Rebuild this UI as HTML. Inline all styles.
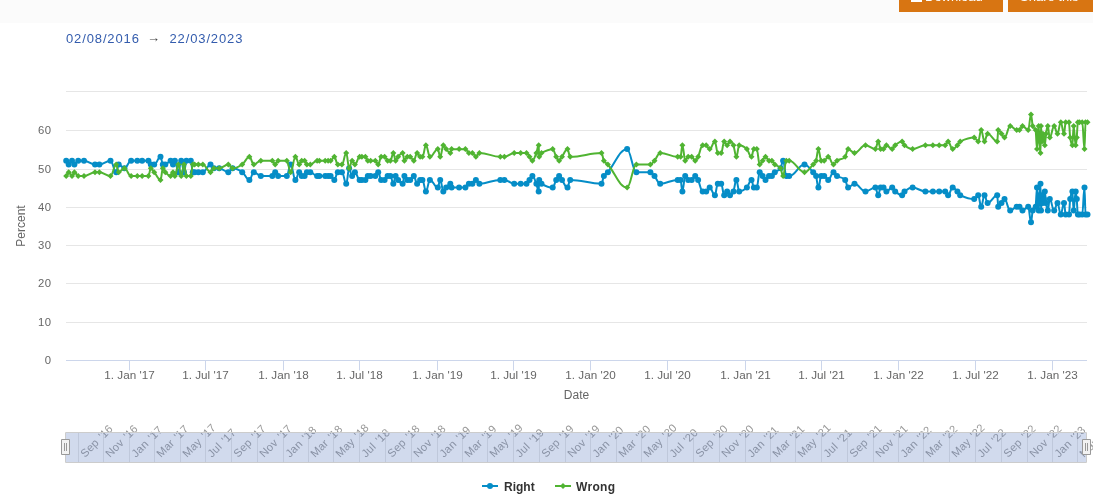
<!DOCTYPE html>
<html><head><meta charset="utf-8"><title>Chart</title>
<style>
html,body{margin:0;padding:0;background:#fff;}
body{width:1093px;height:499px;position:relative;overflow:hidden;font-family:"Liberation Sans",sans-serif;}
#wrap{position:absolute;left:0;top:0;width:1093px;height:499px;will-change:transform;transform:translateZ(0);}
.band{position:absolute;left:0;top:0;width:1093px;height:23px;background:#fbfbfb;}
.btn{position:absolute;top:0;height:12px;background:#d87512;overflow:hidden;}
.btn span{position:absolute;color:#fff;font-size:13px;line-height:13px;white-space:nowrap;top:-10px;}
.t{position:absolute;white-space:nowrap;line-height:1;}
.yl{position:absolute;right:1042px;width:40px;text-align:right;font-size:11.3px;line-height:12px;color:#666;letter-spacing:0.5px;margin-right:-0.5px;}
.xl{position:absolute;top:369px;width:80px;margin-left:-40px;text-align:center;font-size:11.7px;line-height:12px;color:#666;white-space:nowrap;}
</style></head><body><div id="wrap">
<div class="band"></div>
<div class="btn" style="left:899px;width:104px;"><i style="position:absolute;left:11.5px;top:0;width:11.5px;height:2px;background:#fff"></i><span style="left:26px">Download</span></div>
<div class="btn" style="left:1008px;width:85px;"><span style="left:12px">Share this</span></div>
<div class="t" style="left:66px;top:32px;font-size:13px;letter-spacing:0.87px;color:#335cad;">02/08/2016</div>
<div class="t" style="left:147px;top:31px;font-size:13px;color:#444;">&rarr;</div>
<div class="t" style="left:169.5px;top:32px;font-size:13px;letter-spacing:0.87px;color:#335cad;">22/03/2023</div>

<svg width="1093" height="499" viewBox="0 0 1093 499" style="position:absolute;left:0;top:0">
<path d="M66 91.5H1087" stroke="#e6e6e6" stroke-width="1" fill="none"/>
<path d="M66 130.5H1087" stroke="#e6e6e6" stroke-width="1" fill="none"/>
<path d="M66 169.5H1087" stroke="#e6e6e6" stroke-width="1" fill="none"/>
<path d="M66 207.5H1087" stroke="#e6e6e6" stroke-width="1" fill="none"/>
<path d="M66 245.5H1087" stroke="#e6e6e6" stroke-width="1" fill="none"/>
<path d="M66 283.5H1087" stroke="#e6e6e6" stroke-width="1" fill="none"/>
<path d="M66 322.5H1087" stroke="#e6e6e6" stroke-width="1" fill="none"/>
<path d="M66 360.5H1087" stroke="#ccd6eb" stroke-width="1" fill="none"/>
<path d="M129.5 360.5V370.5" stroke="#ccd6eb" stroke-width="1" fill="none"/>
<path d="M205.5 360.5V370.5" stroke="#ccd6eb" stroke-width="1" fill="none"/>
<path d="M283.5 360.5V370.5" stroke="#ccd6eb" stroke-width="1" fill="none"/>
<path d="M359.5 360.5V370.5" stroke="#ccd6eb" stroke-width="1" fill="none"/>
<path d="M437.5 360.5V370.5" stroke="#ccd6eb" stroke-width="1" fill="none"/>
<path d="M513.5 360.5V370.5" stroke="#ccd6eb" stroke-width="1" fill="none"/>
<path d="M590.5 360.5V370.5" stroke="#ccd6eb" stroke-width="1" fill="none"/>
<path d="M667.5 360.5V370.5" stroke="#ccd6eb" stroke-width="1" fill="none"/>
<path d="M745.5 360.5V370.5" stroke="#ccd6eb" stroke-width="1" fill="none"/>
<path d="M821.5 360.5V370.5" stroke="#ccd6eb" stroke-width="1" fill="none"/>
<path d="M898.5 360.5V370.5" stroke="#ccd6eb" stroke-width="1" fill="none"/>
<path d="M975.5 360.5V370.5" stroke="#ccd6eb" stroke-width="1" fill="none"/>
<path d="M1052.5 360.5V370.5" stroke="#ccd6eb" stroke-width="1" fill="none"/>
<path d="M66.25 160.66C66.25 160.66 67.69 164.51 68.65 164.51C69.97 164.51 70.63 160.66 71.95 160.66C72.91 160.66 73.39 164.51 74.35 164.51C75.91 164.51 76.69 160.66 78.25 160.66C80.57 160.66 81.73 160.66 84.05 160.66C88.45 160.66 90.65 164.51 95.05 164.51C96.77 164.51 97.63 164.51 99.35 164.51C103.79 164.51 106.01 160.66 110.45 160.66C112.77 160.66 113.93 172.19 116.25 172.19C117.21 172.19 117.69 164.51 118.65 164.51C120.93 164.51 122.07 168.35 124.35 168.35C127.07 168.35 128.43 160.66 131.15 160.66C133.63 160.66 134.87 160.66 137.35 160.66C139.27 160.66 140.23 160.66 142.15 160.66C144.67 160.66 145.93 160.66 148.45 160.66C149.37 160.66 149.83 164.51 150.75 164.51C152.15 164.51 152.85 164.51 154.25 164.51C156.77 164.51 158.03 156.82 160.55 156.82C161.47 156.82 161.93 164.51 162.85 164.51C163.85 164.51 164.35 164.51 165.35 164.51C167.47 164.51 168.53 160.66 170.65 160.66C171.61 160.66 172.09 164.51 173.05 164.51C173.81 164.51 174.19 160.66 174.95 160.66C176.31 160.66 176.99 172.19 178.35 172.19C179.51 172.19 180.09 160.66 181.25 160.66C182.37 160.66 182.93 172.19 184.05 172.19C185.01 172.19 185.49 160.66 186.45 160.66C188.21 160.66 189.09 160.66 190.85 160.66C191.61 160.66 191.99 172.19 192.75 172.19C193.51 172.19 193.89 172.19 194.65 172.19C196.17 172.19 196.93 172.19 198.45 172.19C200.21 172.19 201.09 172.19 202.85 172.19C205.93 172.19 207.47 164.51 210.55 164.51C211.91 164.51 212.59 168.35 213.95 168.35C216.05 168.35 217.10 168.35 219.20 168.35C222.86 168.35 224.69 172.19 228.35 172.19C230.07 172.19 230.93 168.35 232.65 168.35C236.49 168.35 238.41 169.56 242.25 172.19C245.13 174.17 246.57 179.88 249.45 179.88C251.17 179.88 252.03 172.19 253.75 172.19C256.59 172.19 258.01 176.04 260.85 176.04C265.45 176.04 267.75 176.04 272.35 176.04C273.51 176.04 274.09 172.19 275.25 172.19C276.41 172.19 276.99 176.04 278.15 176.04C281.59 176.04 283.31 176.04 286.75 176.04C288.31 176.04 289.09 164.51 290.65 164.51C292.57 164.51 293.53 179.88 295.45 179.88C296.97 179.88 297.73 172.19 299.25 172.19C300.23 172.19 300.72 176.04 301.70 176.04C302.84 176.04 303.41 176.04 304.55 176.04C305.51 176.04 305.99 172.19 306.95 172.19C308.31 172.19 308.99 172.19 310.35 172.19C313.03 172.19 314.37 176.04 317.05 176.04C318.01 176.04 318.49 176.04 319.45 176.04C321.77 176.04 322.93 176.04 325.25 176.04C326.41 176.04 326.99 176.04 328.15 176.04C329.11 176.04 329.59 176.04 330.55 176.04C332.07 176.04 332.83 179.88 334.35 179.88C335.71 179.88 336.39 172.19 337.75 172.19C339.43 172.19 340.27 172.19 341.95 172.19C343.67 172.19 344.53 183.72 346.25 183.72C347.41 183.72 347.99 168.35 349.15 168.35C350.31 168.35 350.89 176.04 352.05 176.04C353.21 176.04 353.79 172.19 354.95 172.19C356.83 172.19 357.77 179.88 359.65 179.88C360.57 179.88 361.03 179.88 361.95 179.88C363.35 179.88 364.05 179.88 365.45 179.88C366.37 179.88 366.83 176.04 367.75 176.04C368.91 176.04 369.49 176.04 370.65 176.04C372.53 176.04 373.47 176.04 375.35 176.04C376.51 176.04 377.09 172.19 378.25 172.19C379.41 172.19 379.99 179.88 381.15 179.88C382.55 179.88 383.25 179.88 384.65 179.88C385.81 179.88 386.39 176.04 387.55 176.04C388.71 176.04 389.29 176.04 390.45 176.04C391.61 176.04 392.19 183.72 393.35 183.72C394.27 183.72 394.73 176.04 395.65 176.04C396.61 176.04 397.09 178.82 398.05 179.88C399.89 181.90 400.81 183.72 402.65 183.72C403.37 183.72 403.73 176.04 404.45 176.04C405.61 176.04 406.19 179.88 407.35 179.88C408.51 179.88 409.09 179.88 410.25 179.88C411.65 179.88 412.35 176.04 413.75 176.04C415.11 176.04 415.79 183.72 417.15 183.72C418.35 183.72 418.95 179.88 420.15 179.88C421.07 179.88 421.53 179.88 422.45 179.88C423.85 179.88 424.55 191.41 425.95 191.41C427.55 191.41 428.35 179.88 429.95 179.88C433.07 179.88 434.63 187.56 437.75 187.56C438.75 187.56 439.25 179.88 440.25 179.88C441.49 179.88 442.11 191.41 443.35 191.41C444.51 191.41 445.09 188.84 446.25 187.56C447.89 185.76 448.71 183.72 450.35 183.72C450.87 183.72 451.13 187.56 451.65 187.56C454.61 187.56 456.09 187.56 459.05 187.56C461.61 187.56 462.89 187.56 465.45 187.56C466.85 187.56 467.55 183.72 468.95 183.72C470.35 183.72 471.05 183.72 472.45 183.72C473.85 183.72 474.55 179.88 475.95 179.88C477.35 179.88 478.05 183.72 479.45 183.72C487.81 183.72 491.99 179.88 500.35 179.88C501.99 179.88 502.81 179.88 504.45 179.88C508.37 179.88 510.33 183.72 514.25 183.72C516.81 183.72 518.09 183.72 520.65 183.72C522.97 183.72 524.13 183.72 526.45 183.72C527.65 183.72 528.25 181.44 529.45 179.88C530.61 178.37 531.19 176.04 532.35 176.04C533.95 176.04 534.75 179.82 536.35 183.72C537.27 185.97 537.73 191.41 538.65 191.41C538.85 191.41 538.95 179.88 539.15 179.88C540.07 179.88 540.53 183.20 541.45 183.72C545.93 186.27 548.17 187.56 552.65 187.56C554.05 187.56 554.75 182.40 556.15 179.88C557.31 177.79 557.89 176.04 559.05 176.04C560.21 176.04 560.79 178.29 561.95 179.88C564.15 182.90 565.25 187.56 567.45 187.56C568.53 187.56 569.07 179.88 570.15 179.88C582.67 179.88 588.93 183.72 601.45 183.72C602.41 183.72 602.89 177.77 603.85 176.04C605.45 173.15 606.25 174.05 607.85 172.19C615.53 163.29 619.37 149.13 627.05 149.13C630.77 149.13 632.63 172.19 636.35 172.19C641.95 172.19 644.75 172.19 650.35 172.19C651.99 172.19 652.81 174.13 654.45 176.04C656.77 178.74 657.93 183.72 660.25 183.72C667.21 183.72 670.69 179.88 677.65 179.88C678.81 179.88 679.39 179.88 680.55 179.88C681.27 179.88 681.63 191.41 682.35 191.41C683.51 191.41 684.09 176.04 685.25 176.04C686.41 176.04 686.99 179.88 688.15 179.88C689.55 179.88 690.25 179.88 691.65 179.88C693.05 179.88 693.75 176.04 695.15 176.04C696.31 176.04 696.89 177.50 698.05 179.88C699.89 183.65 700.81 191.41 702.65 191.41C704.05 191.41 704.75 191.41 706.15 191.41C707.55 191.41 708.25 187.56 709.65 187.56C711.73 187.56 712.77 195.25 714.85 195.25C716.01 195.25 716.59 183.72 717.75 183.72C719.15 183.72 719.85 183.72 721.25 183.72C722.41 183.72 722.99 195.25 724.15 195.25C725.31 195.25 725.89 191.41 727.05 191.41C728.21 191.41 728.79 195.25 729.95 195.25C731.35 195.25 732.05 194.77 733.45 191.41C734.61 188.62 735.19 179.88 736.35 179.88C737.51 179.88 738.09 191.41 739.25 191.41C742.29 191.41 743.81 190.44 746.85 187.56C748.69 185.83 749.61 179.88 751.45 179.88C752.41 179.88 752.89 187.56 753.85 187.56C755.01 187.56 755.59 187.56 756.75 187.56C757.91 187.56 758.49 172.19 759.65 172.19C760.81 172.19 761.39 174.50 762.55 176.04C763.71 177.57 764.29 179.88 765.45 179.88C766.85 179.88 767.55 176.04 768.95 176.04C770.11 176.04 770.69 176.04 771.85 176.04C773.01 176.04 773.59 173.22 774.75 172.19C777.07 170.14 778.23 171.57 780.55 168.35C781.55 166.96 782.05 160.66 783.05 160.66C784.37 160.66 785.03 176.04 786.35 176.04C787.51 176.04 788.09 176.04 789.25 176.04C795.33 176.04 798.37 164.51 804.45 164.51C807.93 164.51 809.67 168.73 813.15 172.19C814.31 173.35 814.89 172.61 816.05 176.04C816.97 178.76 817.43 187.56 818.35 187.56C819.51 187.56 820.09 176.04 821.25 176.04C822.41 176.04 822.99 176.04 824.15 176.04C825.79 176.04 826.61 179.88 828.25 179.88C830.33 179.88 831.37 172.19 833.45 172.19C834.85 172.19 835.55 175.12 836.95 176.04C840.23 178.19 841.87 176.47 845.15 179.88C846.31 181.08 846.89 187.56 848.05 187.56C850.61 187.56 851.89 183.72 854.45 183.72C858.85 183.72 861.05 191.41 865.45 191.41C869.41 191.41 871.39 187.56 875.35 187.56C876.51 187.56 877.09 195.25 878.25 195.25C879.17 195.25 879.63 187.56 880.55 187.56C881.71 187.56 882.29 187.56 883.45 187.56C884.61 187.56 885.19 191.41 886.35 191.41C888.67 191.41 889.83 187.56 892.15 187.56C893.35 187.56 893.95 190.48 895.15 191.41C897.91 193.55 899.29 195.25 902.05 195.25C903.01 195.25 903.49 192.11 904.45 191.41C907.69 189.04 909.31 187.56 912.55 187.56C917.67 187.56 920.23 191.41 925.35 191.41C928.35 191.41 929.85 191.41 932.85 191.41C935.41 191.41 936.69 191.41 939.25 191.41C941.61 191.41 942.79 191.41 945.15 191.41C946.31 191.41 946.89 195.25 948.05 195.25C949.89 195.25 950.81 187.56 952.65 187.56C954.53 187.56 955.47 189.51 957.35 191.41C958.51 192.58 959.09 194.72 960.25 195.25C965.81 197.79 968.59 199.09 974.15 199.09C975.79 199.09 976.61 195.25 978.25 195.25C979.41 195.25 979.99 206.78 981.15 206.78C982.47 206.78 983.13 195.25 984.45 195.25C985.69 195.25 986.31 202.94 987.55 202.94C991.43 202.94 993.37 195.25 997.25 195.25C997.65 195.25 997.85 206.78 998.25 206.78C999.53 206.78 1000.17 204.52 1001.45 202.94C1002.65 201.45 1003.25 199.09 1004.45 199.09C1006.77 199.09 1007.93 210.62 1010.25 210.62C1012.81 210.62 1014.09 206.78 1016.65 206.78C1017.77 206.78 1018.33 206.78 1019.45 206.78C1020.65 206.78 1021.25 210.62 1022.45 210.62C1024.77 210.62 1025.93 206.78 1028.25 206.78C1029.33 206.78 1029.87 222.15 1030.95 222.15C1031.63 222.15 1031.97 214.47 1032.65 210.62C1033.85 206.78 1034.45 210.62 1035.65 206.78C1036.21 202.94 1036.49 187.56 1037.05 187.56C1037.37 187.56 1037.53 198.33 1037.85 202.94C1038.17 207.55 1038.33 210.62 1038.65 210.62C1038.97 210.62 1039.13 200.03 1039.45 195.25C1039.85 189.27 1040.05 183.72 1040.45 183.72C1040.69 183.72 1040.81 210.62 1041.05 210.62C1041.41 210.62 1041.59 195.25 1041.95 195.25C1042.31 195.25 1042.49 202.94 1042.85 202.94C1043.25 202.94 1043.45 201.52 1043.85 199.09C1044.21 196.91 1044.39 191.41 1044.75 191.41C1045.27 191.41 1045.53 199.61 1046.05 202.94C1046.73 207.29 1047.07 210.62 1047.75 210.62C1048.55 210.62 1048.95 199.09 1049.75 199.09C1051.51 199.09 1052.39 210.62 1054.15 210.62C1055.47 210.62 1056.13 202.94 1057.45 202.94C1058.77 202.94 1059.43 214.47 1060.75 214.47C1062.07 214.47 1062.73 202.94 1064.05 202.94C1064.69 202.94 1065.01 214.47 1065.65 214.47C1066.97 214.47 1067.63 214.47 1068.95 214.47C1069.43 214.47 1069.67 202.35 1070.15 199.09C1071.03 193.13 1071.47 191.41 1072.35 191.41C1072.87 191.41 1073.13 210.62 1073.65 210.62C1074.45 210.62 1074.85 191.41 1075.65 191.41C1076.09 191.41 1076.31 194.48 1076.75 199.09C1077.19 203.71 1077.41 214.47 1077.85 214.47C1078.49 214.47 1078.81 214.47 1079.45 214.47C1080.57 214.47 1081.13 214.47 1082.25 214.47C1083.13 214.47 1083.57 187.56 1084.45 187.56C1084.89 187.56 1085.11 214.47 1085.55 214.47C1086.31 214.47 1087.45 214.47 1087.45 214.47" stroke="#058DC7" stroke-width="2" fill="none" stroke-linejoin="round" stroke-linecap="round"/>
<g fill="#058DC7"><circle cx="66.2" cy="160.7" r="3.0"/><circle cx="68.7" cy="164.5" r="3.0"/><circle cx="72.0" cy="160.7" r="3.0"/><circle cx="74.4" cy="164.5" r="3.0"/><circle cx="78.2" cy="160.7" r="3.0"/><circle cx="84.0" cy="160.7" r="3.0"/><circle cx="95.0" cy="164.5" r="3.0"/><circle cx="99.4" cy="164.5" r="3.0"/><circle cx="110.5" cy="160.7" r="3.0"/><circle cx="116.2" cy="172.2" r="3.0"/><circle cx="118.7" cy="164.5" r="3.0"/><circle cx="124.4" cy="168.3" r="3.0"/><circle cx="131.1" cy="160.7" r="3.0"/><circle cx="137.3" cy="160.7" r="3.0"/><circle cx="142.1" cy="160.7" r="3.0"/><circle cx="148.4" cy="160.7" r="3.0"/><circle cx="150.8" cy="164.5" r="3.0"/><circle cx="154.2" cy="164.5" r="3.0"/><circle cx="160.5" cy="156.8" r="3.0"/><circle cx="162.8" cy="164.5" r="3.0"/><circle cx="165.3" cy="164.5" r="3.0"/><circle cx="170.6" cy="160.7" r="3.0"/><circle cx="173.0" cy="164.5" r="3.0"/><circle cx="174.9" cy="160.7" r="3.0"/><circle cx="178.3" cy="172.2" r="3.0"/><circle cx="181.2" cy="160.7" r="3.0"/><circle cx="184.0" cy="172.2" r="3.0"/><circle cx="186.4" cy="160.7" r="3.0"/><circle cx="190.8" cy="160.7" r="3.0"/><circle cx="192.8" cy="172.2" r="3.0"/><circle cx="194.6" cy="172.2" r="3.0"/><circle cx="198.4" cy="172.2" r="3.0"/><circle cx="202.8" cy="172.2" r="3.0"/><circle cx="210.5" cy="164.5" r="3.0"/><circle cx="213.9" cy="168.3" r="3.0"/><circle cx="219.2" cy="168.3" r="3.0"/><circle cx="228.3" cy="172.2" r="3.0"/><circle cx="232.6" cy="168.3" r="3.0"/><circle cx="242.2" cy="172.2" r="3.0"/><circle cx="249.4" cy="179.9" r="3.0"/><circle cx="253.8" cy="172.2" r="3.0"/><circle cx="260.8" cy="176.0" r="3.0"/><circle cx="272.3" cy="176.0" r="3.0"/><circle cx="275.2" cy="172.2" r="3.0"/><circle cx="278.1" cy="176.0" r="3.0"/><circle cx="286.8" cy="176.0" r="3.0"/><circle cx="290.6" cy="164.5" r="3.0"/><circle cx="295.4" cy="179.9" r="3.0"/><circle cx="299.2" cy="172.2" r="3.0"/><circle cx="301.7" cy="176.0" r="3.0"/><circle cx="304.6" cy="176.0" r="3.0"/><circle cx="306.9" cy="172.2" r="3.0"/><circle cx="310.3" cy="172.2" r="3.0"/><circle cx="317.1" cy="176.0" r="3.0"/><circle cx="319.4" cy="176.0" r="3.0"/><circle cx="325.2" cy="176.0" r="3.0"/><circle cx="328.1" cy="176.0" r="3.0"/><circle cx="330.6" cy="176.0" r="3.0"/><circle cx="334.3" cy="179.9" r="3.0"/><circle cx="337.8" cy="172.2" r="3.0"/><circle cx="341.9" cy="172.2" r="3.0"/><circle cx="346.2" cy="183.7" r="3.0"/><circle cx="349.1" cy="168.3" r="3.0"/><circle cx="352.1" cy="176.0" r="3.0"/><circle cx="354.9" cy="172.2" r="3.0"/><circle cx="359.6" cy="179.9" r="3.0"/><circle cx="361.9" cy="179.9" r="3.0"/><circle cx="365.4" cy="179.9" r="3.0"/><circle cx="367.8" cy="176.0" r="3.0"/><circle cx="370.6" cy="176.0" r="3.0"/><circle cx="375.3" cy="176.0" r="3.0"/><circle cx="378.2" cy="172.2" r="3.0"/><circle cx="381.1" cy="179.9" r="3.0"/><circle cx="384.6" cy="179.9" r="3.0"/><circle cx="387.6" cy="176.0" r="3.0"/><circle cx="390.4" cy="176.0" r="3.0"/><circle cx="393.3" cy="183.7" r="3.0"/><circle cx="395.6" cy="176.0" r="3.0"/><circle cx="398.1" cy="179.9" r="3.0"/><circle cx="402.6" cy="183.7" r="3.0"/><circle cx="404.4" cy="176.0" r="3.0"/><circle cx="407.3" cy="179.9" r="3.0"/><circle cx="410.2" cy="179.9" r="3.0"/><circle cx="413.8" cy="176.0" r="3.0"/><circle cx="417.1" cy="183.7" r="3.0"/><circle cx="420.1" cy="179.9" r="3.0"/><circle cx="422.4" cy="179.9" r="3.0"/><circle cx="425.9" cy="191.4" r="3.0"/><circle cx="429.9" cy="179.9" r="3.0"/><circle cx="437.8" cy="187.6" r="3.0"/><circle cx="440.2" cy="179.9" r="3.0"/><circle cx="443.3" cy="191.4" r="3.0"/><circle cx="446.2" cy="187.6" r="3.0"/><circle cx="450.3" cy="183.7" r="3.0"/><circle cx="451.6" cy="187.6" r="3.0"/><circle cx="459.1" cy="187.6" r="3.0"/><circle cx="465.4" cy="187.6" r="3.0"/><circle cx="468.9" cy="183.7" r="3.0"/><circle cx="472.4" cy="183.7" r="3.0"/><circle cx="475.9" cy="179.9" r="3.0"/><circle cx="479.4" cy="183.7" r="3.0"/><circle cx="500.3" cy="179.9" r="3.0"/><circle cx="504.4" cy="179.9" r="3.0"/><circle cx="514.2" cy="183.7" r="3.0"/><circle cx="520.7" cy="183.7" r="3.0"/><circle cx="526.5" cy="183.7" r="3.0"/><circle cx="529.5" cy="179.9" r="3.0"/><circle cx="532.4" cy="176.0" r="3.0"/><circle cx="536.4" cy="183.7" r="3.0"/><circle cx="538.7" cy="191.4" r="3.0"/><circle cx="539.2" cy="179.9" r="3.0"/><circle cx="541.5" cy="183.7" r="3.0"/><circle cx="552.7" cy="187.6" r="3.0"/><circle cx="556.2" cy="179.9" r="3.0"/><circle cx="559.1" cy="176.0" r="3.0"/><circle cx="562.0" cy="179.9" r="3.0"/><circle cx="567.5" cy="187.6" r="3.0"/><circle cx="570.2" cy="179.9" r="3.0"/><circle cx="601.5" cy="183.7" r="3.0"/><circle cx="603.9" cy="176.0" r="3.0"/><circle cx="607.9" cy="172.2" r="3.0"/><circle cx="627.1" cy="149.1" r="3.0"/><circle cx="636.4" cy="172.2" r="3.0"/><circle cx="650.4" cy="172.2" r="3.0"/><circle cx="654.5" cy="176.0" r="3.0"/><circle cx="660.2" cy="183.7" r="3.0"/><circle cx="677.7" cy="179.9" r="3.0"/><circle cx="680.6" cy="179.9" r="3.0"/><circle cx="682.4" cy="191.4" r="3.0"/><circle cx="685.2" cy="176.0" r="3.0"/><circle cx="688.2" cy="179.9" r="3.0"/><circle cx="691.7" cy="179.9" r="3.0"/><circle cx="695.2" cy="176.0" r="3.0"/><circle cx="698.1" cy="179.9" r="3.0"/><circle cx="702.7" cy="191.4" r="3.0"/><circle cx="706.2" cy="191.4" r="3.0"/><circle cx="709.7" cy="187.6" r="3.0"/><circle cx="714.9" cy="195.3" r="3.0"/><circle cx="717.8" cy="183.7" r="3.0"/><circle cx="721.2" cy="183.7" r="3.0"/><circle cx="724.2" cy="195.3" r="3.0"/><circle cx="727.1" cy="191.4" r="3.0"/><circle cx="730.0" cy="195.3" r="3.0"/><circle cx="733.5" cy="191.4" r="3.0"/><circle cx="736.4" cy="179.9" r="3.0"/><circle cx="739.2" cy="191.4" r="3.0"/><circle cx="746.9" cy="187.6" r="3.0"/><circle cx="751.5" cy="179.9" r="3.0"/><circle cx="753.9" cy="187.6" r="3.0"/><circle cx="756.8" cy="187.6" r="3.0"/><circle cx="759.7" cy="172.2" r="3.0"/><circle cx="762.6" cy="176.0" r="3.0"/><circle cx="765.5" cy="179.9" r="3.0"/><circle cx="769.0" cy="176.0" r="3.0"/><circle cx="771.9" cy="176.0" r="3.0"/><circle cx="774.8" cy="172.2" r="3.0"/><circle cx="780.6" cy="168.3" r="3.0"/><circle cx="783.1" cy="160.7" r="3.0"/><circle cx="786.4" cy="176.0" r="3.0"/><circle cx="789.2" cy="176.0" r="3.0"/><circle cx="804.5" cy="164.5" r="3.0"/><circle cx="813.2" cy="172.2" r="3.0"/><circle cx="816.1" cy="176.0" r="3.0"/><circle cx="818.4" cy="187.6" r="3.0"/><circle cx="821.2" cy="176.0" r="3.0"/><circle cx="824.2" cy="176.0" r="3.0"/><circle cx="828.2" cy="179.9" r="3.0"/><circle cx="833.5" cy="172.2" r="3.0"/><circle cx="837.0" cy="176.0" r="3.0"/><circle cx="845.2" cy="179.9" r="3.0"/><circle cx="848.1" cy="187.6" r="3.0"/><circle cx="854.5" cy="183.7" r="3.0"/><circle cx="865.5" cy="191.4" r="3.0"/><circle cx="875.4" cy="187.6" r="3.0"/><circle cx="878.2" cy="195.3" r="3.0"/><circle cx="880.6" cy="187.6" r="3.0"/><circle cx="883.5" cy="187.6" r="3.0"/><circle cx="886.4" cy="191.4" r="3.0"/><circle cx="892.2" cy="187.6" r="3.0"/><circle cx="895.2" cy="191.4" r="3.0"/><circle cx="902.1" cy="195.3" r="3.0"/><circle cx="904.5" cy="191.4" r="3.0"/><circle cx="912.6" cy="187.6" r="3.0"/><circle cx="925.4" cy="191.4" r="3.0"/><circle cx="932.9" cy="191.4" r="3.0"/><circle cx="939.2" cy="191.4" r="3.0"/><circle cx="945.2" cy="191.4" r="3.0"/><circle cx="948.1" cy="195.3" r="3.0"/><circle cx="952.7" cy="187.6" r="3.0"/><circle cx="957.4" cy="191.4" r="3.0"/><circle cx="960.2" cy="195.3" r="3.0"/><circle cx="974.2" cy="199.1" r="3.0"/><circle cx="978.2" cy="195.3" r="3.0"/><circle cx="981.2" cy="206.8" r="3.0"/><circle cx="984.5" cy="195.3" r="3.0"/><circle cx="987.6" cy="202.9" r="3.0"/><circle cx="997.2" cy="195.3" r="3.0"/><circle cx="998.2" cy="206.8" r="3.0"/><circle cx="1001.5" cy="202.9" r="3.0"/><circle cx="1004.5" cy="199.1" r="3.0"/><circle cx="1010.2" cy="210.6" r="3.0"/><circle cx="1016.7" cy="206.8" r="3.0"/><circle cx="1019.5" cy="206.8" r="3.0"/><circle cx="1022.5" cy="210.6" r="3.0"/><circle cx="1028.2" cy="206.8" r="3.0"/><circle cx="1031.0" cy="222.2" r="3.0"/><circle cx="1032.7" cy="210.6" r="3.0"/><circle cx="1035.7" cy="206.8" r="3.0"/><circle cx="1037.0" cy="187.6" r="3.0"/><circle cx="1037.9" cy="202.9" r="3.0"/><circle cx="1038.7" cy="210.6" r="3.0"/><circle cx="1039.5" cy="195.3" r="3.0"/><circle cx="1040.5" cy="183.7" r="3.0"/><circle cx="1041.0" cy="210.6" r="3.0"/><circle cx="1042.0" cy="195.3" r="3.0"/><circle cx="1042.9" cy="202.9" r="3.0"/><circle cx="1043.9" cy="199.1" r="3.0"/><circle cx="1044.8" cy="191.4" r="3.0"/><circle cx="1046.0" cy="202.9" r="3.0"/><circle cx="1047.8" cy="210.6" r="3.0"/><circle cx="1049.8" cy="199.1" r="3.0"/><circle cx="1054.2" cy="210.6" r="3.0"/><circle cx="1057.5" cy="202.9" r="3.0"/><circle cx="1060.8" cy="214.5" r="3.0"/><circle cx="1064.0" cy="202.9" r="3.0"/><circle cx="1065.7" cy="214.5" r="3.0"/><circle cx="1069.0" cy="214.5" r="3.0"/><circle cx="1070.2" cy="199.1" r="3.0"/><circle cx="1072.4" cy="191.4" r="3.0"/><circle cx="1073.7" cy="210.6" r="3.0"/><circle cx="1075.7" cy="191.4" r="3.0"/><circle cx="1076.8" cy="199.1" r="3.0"/><circle cx="1077.9" cy="214.5" r="3.0"/><circle cx="1079.5" cy="214.5" r="3.0"/><circle cx="1082.2" cy="214.5" r="3.0"/><circle cx="1084.5" cy="187.6" r="3.0"/><circle cx="1085.5" cy="214.5" r="3.0"/><circle cx="1087.5" cy="214.5" r="3.0"/></g>
<path d="M66.25 176.04C66.25 176.04 67.69 172.19 68.65 172.19C69.97 172.19 70.63 176.04 71.95 176.04C72.91 176.04 73.39 172.19 74.35 172.19C75.91 172.19 76.69 176.04 78.25 176.04C80.57 176.04 81.73 176.04 84.05 176.04C88.45 176.04 90.65 172.19 95.05 172.19C96.77 172.19 97.63 172.19 99.35 172.19C103.79 172.19 106.01 176.04 110.45 176.04C112.77 176.04 113.93 164.51 116.25 164.51C117.21 164.51 117.69 172.19 118.65 172.19C120.93 172.19 122.07 168.35 124.35 168.35C127.07 168.35 128.43 176.04 131.15 176.04C133.63 176.04 134.87 176.04 137.35 176.04C139.27 176.04 140.23 176.04 142.15 176.04C144.67 176.04 145.93 176.04 148.45 176.04C149.37 176.04 149.83 168.35 150.75 168.35C152.15 168.35 152.85 170.55 154.25 172.19C156.77 175.16 158.03 179.88 160.55 179.88C161.47 179.88 161.93 168.35 162.85 168.35C163.85 168.35 164.35 171.21 165.35 172.19C167.47 174.28 168.53 176.04 170.65 176.04C171.61 176.04 172.09 172.19 173.05 172.19C173.81 172.19 174.19 176.04 174.95 176.04C176.31 176.04 176.99 164.51 178.35 164.51C179.51 164.51 180.09 176.04 181.25 176.04C182.37 176.04 182.93 164.51 184.05 164.51C185.01 164.51 185.49 176.04 186.45 176.04C188.21 176.04 189.09 176.04 190.85 176.04C191.61 176.04 191.99 164.51 192.75 164.51C193.51 164.51 193.89 164.51 194.65 164.51C196.17 164.51 196.93 164.51 198.45 164.51C200.21 164.51 201.09 164.51 202.85 164.51C205.93 164.51 207.47 172.19 210.55 172.19C211.91 172.19 212.59 168.35 213.95 168.35C216.05 168.35 217.10 168.35 219.20 168.35C222.86 168.35 224.69 164.51 228.35 164.51C230.07 164.51 230.93 168.35 232.65 168.35C236.49 168.35 238.41 167.14 242.25 164.51C245.13 162.53 246.57 156.82 249.45 156.82C251.17 156.82 252.03 164.51 253.75 164.51C256.59 164.51 258.01 160.66 260.85 160.66C265.45 160.66 267.75 160.66 272.35 160.66C273.51 160.66 274.09 164.51 275.25 164.51C276.41 164.51 276.99 160.66 278.15 160.66C281.59 160.66 283.31 160.66 286.75 160.66C288.31 160.66 289.09 172.19 290.65 172.19C292.57 172.19 293.53 156.82 295.45 156.82C296.97 156.82 297.73 164.51 299.25 164.51C300.23 164.51 300.72 160.66 301.70 160.66C302.84 160.66 303.41 160.66 304.55 160.66C305.51 160.66 305.99 164.51 306.95 164.51C308.31 164.51 308.99 164.51 310.35 164.51C313.03 164.51 314.37 160.66 317.05 160.66C318.01 160.66 318.49 160.66 319.45 160.66C321.77 160.66 322.93 160.66 325.25 160.66C326.41 160.66 326.99 160.66 328.15 160.66C329.11 160.66 329.59 160.66 330.55 160.66C332.07 160.66 332.83 156.82 334.35 156.82C335.71 156.82 336.39 164.51 337.75 164.51C339.43 164.51 340.27 164.51 341.95 164.51C343.67 164.51 344.53 152.98 346.25 152.98C347.41 152.98 347.99 168.35 349.15 168.35C350.31 168.35 350.89 160.66 352.05 160.66C353.21 160.66 353.79 164.51 354.95 164.51C356.83 164.51 357.77 156.82 359.65 156.82C360.57 156.82 361.03 156.82 361.95 156.82C363.35 156.82 364.05 156.82 365.45 156.82C366.37 156.82 366.83 160.66 367.75 160.66C368.91 160.66 369.49 160.66 370.65 160.66C372.53 160.66 373.47 160.66 375.35 160.66C376.51 160.66 377.09 164.51 378.25 164.51C379.41 164.51 379.99 156.82 381.15 156.82C382.55 156.82 383.25 156.82 384.65 156.82C385.81 156.82 386.39 160.66 387.55 160.66C388.71 160.66 389.29 160.66 390.45 160.66C391.61 160.66 392.19 152.98 393.35 152.98C394.27 152.98 394.73 160.66 395.65 160.66C396.61 160.66 397.09 157.88 398.05 156.82C399.89 154.80 400.81 152.98 402.65 152.98C403.37 152.98 403.73 160.66 404.45 160.66C405.61 160.66 406.19 156.82 407.35 156.82C408.51 156.82 409.09 156.82 410.25 156.82C411.65 156.82 412.35 160.66 413.75 160.66C415.11 160.66 415.79 152.98 417.15 152.98C418.35 152.98 418.95 156.82 420.15 156.82C421.07 156.82 421.53 156.82 422.45 156.82C423.85 156.82 424.55 145.29 425.95 145.29C427.55 145.29 428.35 156.82 429.95 156.82C433.07 156.82 434.63 149.13 437.75 149.13C438.75 149.13 439.25 156.82 440.25 156.82C441.49 156.82 442.11 145.29 443.35 145.29C444.51 145.29 445.09 147.86 446.25 149.13C447.89 150.94 448.71 152.98 450.35 152.98C450.87 152.98 451.13 149.13 451.65 149.13C454.61 149.13 456.09 149.13 459.05 149.13C461.61 149.13 462.89 149.13 465.45 149.13C466.85 149.13 467.55 152.98 468.95 152.98C470.35 152.98 471.05 152.98 472.45 152.98C473.85 152.98 474.55 156.82 475.95 156.82C477.35 156.82 478.05 152.98 479.45 152.98C487.81 152.98 491.99 156.82 500.35 156.82C501.99 156.82 502.81 156.82 504.45 156.82C508.37 156.82 510.33 152.98 514.25 152.98C516.81 152.98 518.09 152.98 520.65 152.98C522.97 152.98 524.13 152.98 526.45 152.98C527.65 152.98 528.25 155.26 529.45 156.82C530.61 158.33 531.19 160.66 532.35 160.66C533.95 160.66 534.75 156.88 536.35 152.98C537.27 150.73 537.73 145.29 538.65 145.29C538.85 145.29 538.95 156.82 539.15 156.82C540.07 156.82 540.53 153.50 541.45 152.98C545.93 150.43 548.17 149.13 552.65 149.13C554.05 149.13 554.75 154.30 556.15 156.82C557.31 158.91 557.89 160.66 559.05 160.66C560.21 160.66 560.79 158.41 561.95 156.82C564.15 153.80 565.25 149.13 567.45 149.13C568.53 149.13 569.07 156.82 570.15 156.82C582.67 156.82 588.93 152.98 601.45 152.98C602.41 152.98 602.89 158.93 603.85 160.66C605.45 163.55 606.25 162.65 607.85 164.51C615.53 173.41 619.37 187.56 627.05 187.56C630.77 187.56 632.63 164.51 636.35 164.51C641.95 164.51 644.75 164.51 650.35 164.51C651.99 164.51 652.81 162.57 654.45 160.66C656.77 157.96 657.93 152.98 660.25 152.98C667.21 152.98 670.69 156.82 677.65 156.82C678.81 156.82 679.39 156.82 680.55 156.82C681.27 156.82 681.63 145.29 682.35 145.29C683.51 145.29 684.09 160.66 685.25 160.66C686.41 160.66 686.99 156.82 688.15 156.82C689.55 156.82 690.25 156.82 691.65 156.82C693.05 156.82 693.75 160.66 695.15 160.66C696.31 160.66 696.89 159.20 698.05 156.82C699.89 153.05 700.81 145.29 702.65 145.29C704.05 145.29 704.75 145.29 706.15 145.29C707.55 145.29 708.25 149.13 709.65 149.13C711.73 149.13 712.77 141.45 714.85 141.45C716.01 141.45 716.59 152.98 717.75 152.98C719.15 152.98 719.85 152.98 721.25 152.98C722.41 152.98 722.99 141.45 724.15 141.45C725.31 141.45 725.89 145.29 727.05 145.29C728.21 145.29 728.79 141.45 729.95 141.45C731.35 141.45 732.05 141.93 733.45 145.29C734.61 148.08 735.19 156.82 736.35 156.82C737.51 156.82 738.09 145.29 739.25 145.29C742.29 145.29 743.81 146.26 746.85 149.13C748.69 150.87 749.61 156.82 751.45 156.82C752.41 156.82 752.89 149.13 753.85 149.13C755.01 149.13 755.59 149.13 756.75 149.13C757.91 149.13 758.49 164.51 759.65 164.51C760.81 164.51 761.39 162.20 762.55 160.66C763.71 159.13 764.29 156.82 765.45 156.82C766.85 156.82 767.55 160.66 768.95 160.66C770.11 160.66 770.69 160.66 771.85 160.66C773.01 160.66 773.59 163.48 774.75 164.51C777.07 166.56 778.23 165.13 780.55 168.35C781.55 169.74 782.05 176.04 783.05 176.04C784.37 176.04 785.03 160.66 786.35 160.66C787.51 160.66 788.09 160.66 789.25 160.66C795.33 160.66 798.37 172.19 804.45 172.19C807.93 172.19 809.67 167.97 813.15 164.51C814.31 163.35 814.89 164.09 816.05 160.66C816.97 157.94 817.43 149.13 818.35 149.13C819.51 149.13 820.09 160.66 821.25 160.66C822.41 160.66 822.99 160.66 824.15 160.66C825.79 160.66 826.61 156.82 828.25 156.82C830.33 156.82 831.37 164.51 833.45 164.51C834.85 164.51 835.55 161.58 836.95 160.66C840.23 158.51 841.87 160.23 845.15 156.82C846.31 155.62 846.89 149.13 848.05 149.13C850.61 149.13 851.89 152.98 854.45 152.98C858.85 152.98 861.05 145.29 865.45 145.29C869.41 145.29 871.39 149.13 875.35 149.13C876.51 149.13 877.09 141.45 878.25 141.45C879.17 141.45 879.63 149.13 880.55 149.13C881.71 149.13 882.29 149.13 883.45 149.13C884.61 149.13 885.19 145.29 886.35 145.29C888.67 145.29 889.83 149.13 892.15 149.13C893.35 149.13 893.95 146.22 895.15 145.29C897.91 143.15 899.29 141.45 902.05 141.45C903.01 141.45 903.49 144.59 904.45 145.29C907.69 147.66 909.31 149.13 912.55 149.13C917.67 149.13 920.23 145.29 925.35 145.29C928.35 145.29 929.85 145.29 932.85 145.29C935.41 145.29 936.69 145.29 939.25 145.29C941.61 145.29 942.79 145.29 945.15 145.29C946.31 145.29 946.89 141.45 948.05 141.45C949.89 141.45 950.81 149.13 952.65 149.13C954.53 149.13 955.47 147.19 957.35 145.29C958.51 144.12 959.09 141.98 960.25 141.45C965.81 138.91 968.59 137.61 974.15 137.61C975.79 137.61 976.61 141.45 978.25 141.45C979.41 141.45 979.99 129.92 981.15 129.92C982.47 129.92 983.13 141.45 984.45 141.45C985.69 141.45 986.31 133.76 987.55 133.76C991.43 133.76 993.37 141.45 997.25 141.45C997.65 141.45 997.85 129.92 998.25 129.92C999.53 129.92 1000.17 132.18 1001.45 133.76C1002.65 135.25 1003.25 137.61 1004.45 137.61C1006.77 137.61 1007.93 126.08 1010.25 126.08C1012.81 126.08 1014.09 129.92 1016.65 129.92C1017.77 129.92 1018.33 129.92 1019.45 129.92C1020.65 129.92 1021.25 126.08 1022.45 126.08C1024.77 126.08 1025.93 129.92 1028.25 129.92C1029.33 129.92 1029.87 114.55 1030.95 114.55C1031.63 114.55 1031.97 122.23 1032.65 126.08C1033.85 129.92 1034.45 126.08 1035.65 129.92C1036.21 133.76 1036.49 149.13 1037.05 149.13C1037.37 149.13 1037.53 138.37 1037.85 133.76C1038.17 129.15 1038.33 126.08 1038.65 126.08C1038.97 126.08 1039.13 136.67 1039.45 141.45C1039.85 147.43 1040.05 152.98 1040.45 152.98C1040.69 152.98 1040.81 126.08 1041.05 126.08C1041.41 126.08 1041.59 141.45 1041.95 141.45C1042.31 141.45 1042.49 133.76 1042.85 133.76C1043.25 133.76 1043.45 135.18 1043.85 137.61C1044.21 139.79 1044.39 145.29 1044.75 145.29C1045.27 145.29 1045.53 137.09 1046.05 133.76C1046.73 129.41 1047.07 126.08 1047.75 126.08C1048.55 126.08 1048.95 137.61 1049.75 137.61C1051.51 137.61 1052.39 126.08 1054.15 126.08C1055.47 126.08 1056.13 133.76 1057.45 133.76C1058.77 133.76 1059.43 122.23 1060.75 122.23C1062.07 122.23 1062.73 133.76 1064.05 133.76C1064.69 133.76 1065.01 122.23 1065.65 122.23C1066.97 122.23 1067.63 122.23 1068.95 122.23C1069.43 122.23 1069.67 134.35 1070.15 137.61C1071.03 143.57 1071.47 145.29 1072.35 145.29C1072.87 145.29 1073.13 126.08 1073.65 126.08C1074.45 126.08 1074.85 145.29 1075.65 145.29C1076.09 145.29 1076.31 142.22 1076.75 137.61C1077.19 132.99 1077.41 122.23 1077.85 122.23C1078.49 122.23 1078.81 122.23 1079.45 122.23C1080.57 122.23 1081.13 122.23 1082.25 122.23C1083.13 122.23 1083.57 149.13 1084.45 149.13C1084.89 149.13 1085.11 122.23 1085.55 122.23C1086.31 122.23 1087.45 122.23 1087.45 122.23" stroke="#50B432" stroke-width="2" fill="none" stroke-linejoin="round" stroke-linecap="round"/>
<g fill="#50B432"><path d="M66.2 173.0L69.2 176.0L66.2 179.0L63.2 176.0Z"/><path d="M68.7 169.2L71.7 172.2L68.7 175.2L65.7 172.2Z"/><path d="M72.0 173.0L75.0 176.0L72.0 179.0L69.0 176.0Z"/><path d="M74.4 169.2L77.4 172.2L74.4 175.2L71.4 172.2Z"/><path d="M78.2 173.0L81.2 176.0L78.2 179.0L75.2 176.0Z"/><path d="M84.0 173.0L87.0 176.0L84.0 179.0L81.0 176.0Z"/><path d="M95.0 169.2L98.0 172.2L95.0 175.2L92.0 172.2Z"/><path d="M99.4 169.2L102.4 172.2L99.4 175.2L96.4 172.2Z"/><path d="M110.5 173.0L113.5 176.0L110.5 179.0L107.5 176.0Z"/><path d="M116.2 161.5L119.2 164.5L116.2 167.5L113.2 164.5Z"/><path d="M118.7 169.2L121.7 172.2L118.7 175.2L115.7 172.2Z"/><path d="M124.4 165.3L127.4 168.3L124.4 171.3L121.4 168.3Z"/><path d="M131.1 173.0L134.1 176.0L131.1 179.0L128.1 176.0Z"/><path d="M137.3 173.0L140.3 176.0L137.3 179.0L134.3 176.0Z"/><path d="M142.1 173.0L145.1 176.0L142.1 179.0L139.1 176.0Z"/><path d="M148.4 173.0L151.4 176.0L148.4 179.0L145.4 176.0Z"/><path d="M150.8 165.3L153.8 168.3L150.8 171.3L147.8 168.3Z"/><path d="M154.2 169.2L157.2 172.2L154.2 175.2L151.2 172.2Z"/><path d="M160.5 176.9L163.5 179.9L160.5 182.9L157.5 179.9Z"/><path d="M162.8 165.3L165.8 168.3L162.8 171.3L159.8 168.3Z"/><path d="M165.3 169.2L168.3 172.2L165.3 175.2L162.3 172.2Z"/><path d="M170.6 173.0L173.6 176.0L170.6 179.0L167.6 176.0Z"/><path d="M173.0 169.2L176.0 172.2L173.0 175.2L170.0 172.2Z"/><path d="M174.9 173.0L177.9 176.0L174.9 179.0L171.9 176.0Z"/><path d="M178.3 161.5L181.3 164.5L178.3 167.5L175.3 164.5Z"/><path d="M181.2 173.0L184.2 176.0L181.2 179.0L178.2 176.0Z"/><path d="M184.0 161.5L187.0 164.5L184.0 167.5L181.0 164.5Z"/><path d="M186.4 173.0L189.4 176.0L186.4 179.0L183.4 176.0Z"/><path d="M190.8 173.0L193.8 176.0L190.8 179.0L187.8 176.0Z"/><path d="M192.8 161.5L195.8 164.5L192.8 167.5L189.8 164.5Z"/><path d="M194.6 161.5L197.6 164.5L194.6 167.5L191.6 164.5Z"/><path d="M198.4 161.5L201.4 164.5L198.4 167.5L195.4 164.5Z"/><path d="M202.8 161.5L205.8 164.5L202.8 167.5L199.8 164.5Z"/><path d="M210.5 169.2L213.5 172.2L210.5 175.2L207.5 172.2Z"/><path d="M213.9 165.3L216.9 168.3L213.9 171.3L210.9 168.3Z"/><path d="M219.2 165.3L222.2 168.3L219.2 171.3L216.2 168.3Z"/><path d="M228.3 161.5L231.3 164.5L228.3 167.5L225.3 164.5Z"/><path d="M232.6 165.3L235.6 168.3L232.6 171.3L229.6 168.3Z"/><path d="M242.2 161.5L245.2 164.5L242.2 167.5L239.2 164.5Z"/><path d="M249.4 153.8L252.4 156.8L249.4 159.8L246.4 156.8Z"/><path d="M253.8 161.5L256.8 164.5L253.8 167.5L250.8 164.5Z"/><path d="M260.8 157.7L263.8 160.7L260.8 163.7L257.8 160.7Z"/><path d="M272.3 157.7L275.3 160.7L272.3 163.7L269.3 160.7Z"/><path d="M275.2 161.5L278.2 164.5L275.2 167.5L272.2 164.5Z"/><path d="M278.1 157.7L281.1 160.7L278.1 163.7L275.1 160.7Z"/><path d="M286.8 157.7L289.8 160.7L286.8 163.7L283.8 160.7Z"/><path d="M290.6 169.2L293.6 172.2L290.6 175.2L287.6 172.2Z"/><path d="M295.4 153.8L298.4 156.8L295.4 159.8L292.4 156.8Z"/><path d="M299.2 161.5L302.2 164.5L299.2 167.5L296.2 164.5Z"/><path d="M301.7 157.7L304.7 160.7L301.7 163.7L298.7 160.7Z"/><path d="M304.6 157.7L307.6 160.7L304.6 163.7L301.6 160.7Z"/><path d="M306.9 161.5L309.9 164.5L306.9 167.5L303.9 164.5Z"/><path d="M310.3 161.5L313.3 164.5L310.3 167.5L307.3 164.5Z"/><path d="M317.1 157.7L320.1 160.7L317.1 163.7L314.1 160.7Z"/><path d="M319.4 157.7L322.4 160.7L319.4 163.7L316.4 160.7Z"/><path d="M325.2 157.7L328.2 160.7L325.2 163.7L322.2 160.7Z"/><path d="M328.1 157.7L331.1 160.7L328.1 163.7L325.1 160.7Z"/><path d="M330.6 157.7L333.6 160.7L330.6 163.7L327.6 160.7Z"/><path d="M334.3 153.8L337.3 156.8L334.3 159.8L331.3 156.8Z"/><path d="M337.8 161.5L340.8 164.5L337.8 167.5L334.8 164.5Z"/><path d="M341.9 161.5L344.9 164.5L341.9 167.5L338.9 164.5Z"/><path d="M346.2 150.0L349.2 153.0L346.2 156.0L343.2 153.0Z"/><path d="M349.1 165.3L352.1 168.3L349.1 171.3L346.1 168.3Z"/><path d="M352.1 157.7L355.1 160.7L352.1 163.7L349.1 160.7Z"/><path d="M354.9 161.5L357.9 164.5L354.9 167.5L351.9 164.5Z"/><path d="M359.6 153.8L362.6 156.8L359.6 159.8L356.6 156.8Z"/><path d="M361.9 153.8L364.9 156.8L361.9 159.8L358.9 156.8Z"/><path d="M365.4 153.8L368.4 156.8L365.4 159.8L362.4 156.8Z"/><path d="M367.8 157.7L370.8 160.7L367.8 163.7L364.8 160.7Z"/><path d="M370.6 157.7L373.6 160.7L370.6 163.7L367.6 160.7Z"/><path d="M375.3 157.7L378.3 160.7L375.3 163.7L372.3 160.7Z"/><path d="M378.2 161.5L381.2 164.5L378.2 167.5L375.2 164.5Z"/><path d="M381.1 153.8L384.1 156.8L381.1 159.8L378.1 156.8Z"/><path d="M384.6 153.8L387.6 156.8L384.6 159.8L381.6 156.8Z"/><path d="M387.6 157.7L390.6 160.7L387.6 163.7L384.6 160.7Z"/><path d="M390.4 157.7L393.4 160.7L390.4 163.7L387.4 160.7Z"/><path d="M393.3 150.0L396.3 153.0L393.3 156.0L390.3 153.0Z"/><path d="M395.6 157.7L398.6 160.7L395.6 163.7L392.6 160.7Z"/><path d="M398.1 153.8L401.1 156.8L398.1 159.8L395.1 156.8Z"/><path d="M402.6 150.0L405.6 153.0L402.6 156.0L399.6 153.0Z"/><path d="M404.4 157.7L407.4 160.7L404.4 163.7L401.4 160.7Z"/><path d="M407.3 153.8L410.3 156.8L407.3 159.8L404.3 156.8Z"/><path d="M410.2 153.8L413.2 156.8L410.2 159.8L407.2 156.8Z"/><path d="M413.8 157.7L416.8 160.7L413.8 163.7L410.8 160.7Z"/><path d="M417.1 150.0L420.1 153.0L417.1 156.0L414.1 153.0Z"/><path d="M420.1 153.8L423.1 156.8L420.1 159.8L417.1 156.8Z"/><path d="M422.4 153.8L425.4 156.8L422.4 159.8L419.4 156.8Z"/><path d="M425.9 142.3L428.9 145.3L425.9 148.3L422.9 145.3Z"/><path d="M429.9 153.8L432.9 156.8L429.9 159.8L426.9 156.8Z"/><path d="M437.8 146.1L440.8 149.1L437.8 152.1L434.8 149.1Z"/><path d="M440.2 153.8L443.2 156.8L440.2 159.8L437.2 156.8Z"/><path d="M443.3 142.3L446.3 145.3L443.3 148.3L440.3 145.3Z"/><path d="M446.2 146.1L449.2 149.1L446.2 152.1L443.2 149.1Z"/><path d="M450.3 150.0L453.3 153.0L450.3 156.0L447.3 153.0Z"/><path d="M451.6 146.1L454.6 149.1L451.6 152.1L448.6 149.1Z"/><path d="M459.1 146.1L462.1 149.1L459.1 152.1L456.1 149.1Z"/><path d="M465.4 146.1L468.4 149.1L465.4 152.1L462.4 149.1Z"/><path d="M468.9 150.0L471.9 153.0L468.9 156.0L465.9 153.0Z"/><path d="M472.4 150.0L475.4 153.0L472.4 156.0L469.4 153.0Z"/><path d="M475.9 153.8L478.9 156.8L475.9 159.8L472.9 156.8Z"/><path d="M479.4 150.0L482.4 153.0L479.4 156.0L476.4 153.0Z"/><path d="M500.3 153.8L503.3 156.8L500.3 159.8L497.3 156.8Z"/><path d="M504.4 153.8L507.4 156.8L504.4 159.8L501.4 156.8Z"/><path d="M514.2 150.0L517.2 153.0L514.2 156.0L511.2 153.0Z"/><path d="M520.7 150.0L523.7 153.0L520.7 156.0L517.7 153.0Z"/><path d="M526.5 150.0L529.5 153.0L526.5 156.0L523.5 153.0Z"/><path d="M529.5 153.8L532.5 156.8L529.5 159.8L526.5 156.8Z"/><path d="M532.4 157.7L535.4 160.7L532.4 163.7L529.4 160.7Z"/><path d="M536.4 150.0L539.4 153.0L536.4 156.0L533.4 153.0Z"/><path d="M538.7 142.3L541.7 145.3L538.7 148.3L535.7 145.3Z"/><path d="M539.2 153.8L542.2 156.8L539.2 159.8L536.2 156.8Z"/><path d="M541.5 150.0L544.5 153.0L541.5 156.0L538.5 153.0Z"/><path d="M552.7 146.1L555.7 149.1L552.7 152.1L549.7 149.1Z"/><path d="M556.2 153.8L559.2 156.8L556.2 159.8L553.2 156.8Z"/><path d="M559.1 157.7L562.1 160.7L559.1 163.7L556.1 160.7Z"/><path d="M562.0 153.8L565.0 156.8L562.0 159.8L559.0 156.8Z"/><path d="M567.5 146.1L570.5 149.1L567.5 152.1L564.5 149.1Z"/><path d="M570.2 153.8L573.2 156.8L570.2 159.8L567.2 156.8Z"/><path d="M601.5 150.0L604.5 153.0L601.5 156.0L598.5 153.0Z"/><path d="M603.9 157.7L606.9 160.7L603.9 163.7L600.9 160.7Z"/><path d="M607.9 161.5L610.9 164.5L607.9 167.5L604.9 164.5Z"/><path d="M627.1 184.6L630.1 187.6L627.1 190.6L624.1 187.6Z"/><path d="M636.4 161.5L639.4 164.5L636.4 167.5L633.4 164.5Z"/><path d="M650.4 161.5L653.4 164.5L650.4 167.5L647.4 164.5Z"/><path d="M654.5 157.7L657.5 160.7L654.5 163.7L651.5 160.7Z"/><path d="M660.2 150.0L663.2 153.0L660.2 156.0L657.2 153.0Z"/><path d="M677.7 153.8L680.7 156.8L677.7 159.8L674.7 156.8Z"/><path d="M680.6 153.8L683.6 156.8L680.6 159.8L677.6 156.8Z"/><path d="M682.4 142.3L685.4 145.3L682.4 148.3L679.4 145.3Z"/><path d="M685.2 157.7L688.2 160.7L685.2 163.7L682.2 160.7Z"/><path d="M688.2 153.8L691.2 156.8L688.2 159.8L685.2 156.8Z"/><path d="M691.7 153.8L694.7 156.8L691.7 159.8L688.7 156.8Z"/><path d="M695.2 157.7L698.2 160.7L695.2 163.7L692.2 160.7Z"/><path d="M698.1 153.8L701.1 156.8L698.1 159.8L695.1 156.8Z"/><path d="M702.7 142.3L705.7 145.3L702.7 148.3L699.7 145.3Z"/><path d="M706.2 142.3L709.2 145.3L706.2 148.3L703.2 145.3Z"/><path d="M709.7 146.1L712.7 149.1L709.7 152.1L706.7 149.1Z"/><path d="M714.9 138.4L717.9 141.4L714.9 144.4L711.9 141.4Z"/><path d="M717.8 150.0L720.8 153.0L717.8 156.0L714.8 153.0Z"/><path d="M721.2 150.0L724.2 153.0L721.2 156.0L718.2 153.0Z"/><path d="M724.2 138.4L727.2 141.4L724.2 144.4L721.2 141.4Z"/><path d="M727.1 142.3L730.1 145.3L727.1 148.3L724.1 145.3Z"/><path d="M730.0 138.4L733.0 141.4L730.0 144.4L727.0 141.4Z"/><path d="M733.5 142.3L736.5 145.3L733.5 148.3L730.5 145.3Z"/><path d="M736.4 153.8L739.4 156.8L736.4 159.8L733.4 156.8Z"/><path d="M739.2 142.3L742.2 145.3L739.2 148.3L736.2 145.3Z"/><path d="M746.9 146.1L749.9 149.1L746.9 152.1L743.9 149.1Z"/><path d="M751.5 153.8L754.5 156.8L751.5 159.8L748.5 156.8Z"/><path d="M753.9 146.1L756.9 149.1L753.9 152.1L750.9 149.1Z"/><path d="M756.8 146.1L759.8 149.1L756.8 152.1L753.8 149.1Z"/><path d="M759.7 161.5L762.7 164.5L759.7 167.5L756.7 164.5Z"/><path d="M762.6 157.7L765.6 160.7L762.6 163.7L759.6 160.7Z"/><path d="M765.5 153.8L768.5 156.8L765.5 159.8L762.5 156.8Z"/><path d="M769.0 157.7L772.0 160.7L769.0 163.7L766.0 160.7Z"/><path d="M771.9 157.7L774.9 160.7L771.9 163.7L768.9 160.7Z"/><path d="M774.8 161.5L777.8 164.5L774.8 167.5L771.8 164.5Z"/><path d="M780.6 165.3L783.6 168.3L780.6 171.3L777.6 168.3Z"/><path d="M783.1 173.0L786.1 176.0L783.1 179.0L780.1 176.0Z"/><path d="M786.4 157.7L789.4 160.7L786.4 163.7L783.4 160.7Z"/><path d="M789.2 157.7L792.2 160.7L789.2 163.7L786.2 160.7Z"/><path d="M804.5 169.2L807.5 172.2L804.5 175.2L801.5 172.2Z"/><path d="M813.2 161.5L816.2 164.5L813.2 167.5L810.2 164.5Z"/><path d="M816.1 157.7L819.1 160.7L816.1 163.7L813.1 160.7Z"/><path d="M818.4 146.1L821.4 149.1L818.4 152.1L815.4 149.1Z"/><path d="M821.2 157.7L824.2 160.7L821.2 163.7L818.2 160.7Z"/><path d="M824.2 157.7L827.2 160.7L824.2 163.7L821.2 160.7Z"/><path d="M828.2 153.8L831.2 156.8L828.2 159.8L825.2 156.8Z"/><path d="M833.5 161.5L836.5 164.5L833.5 167.5L830.5 164.5Z"/><path d="M837.0 157.7L840.0 160.7L837.0 163.7L834.0 160.7Z"/><path d="M845.2 153.8L848.2 156.8L845.2 159.8L842.2 156.8Z"/><path d="M848.1 146.1L851.1 149.1L848.1 152.1L845.1 149.1Z"/><path d="M854.5 150.0L857.5 153.0L854.5 156.0L851.5 153.0Z"/><path d="M865.5 142.3L868.5 145.3L865.5 148.3L862.5 145.3Z"/><path d="M875.4 146.1L878.4 149.1L875.4 152.1L872.4 149.1Z"/><path d="M878.2 138.4L881.2 141.4L878.2 144.4L875.2 141.4Z"/><path d="M880.6 146.1L883.6 149.1L880.6 152.1L877.6 149.1Z"/><path d="M883.5 146.1L886.5 149.1L883.5 152.1L880.5 149.1Z"/><path d="M886.4 142.3L889.4 145.3L886.4 148.3L883.4 145.3Z"/><path d="M892.2 146.1L895.2 149.1L892.2 152.1L889.2 149.1Z"/><path d="M895.2 142.3L898.2 145.3L895.2 148.3L892.2 145.3Z"/><path d="M902.1 138.4L905.1 141.4L902.1 144.4L899.1 141.4Z"/><path d="M904.5 142.3L907.5 145.3L904.5 148.3L901.5 145.3Z"/><path d="M912.6 146.1L915.6 149.1L912.6 152.1L909.6 149.1Z"/><path d="M925.4 142.3L928.4 145.3L925.4 148.3L922.4 145.3Z"/><path d="M932.9 142.3L935.9 145.3L932.9 148.3L929.9 145.3Z"/><path d="M939.2 142.3L942.2 145.3L939.2 148.3L936.2 145.3Z"/><path d="M945.2 142.3L948.2 145.3L945.2 148.3L942.2 145.3Z"/><path d="M948.1 138.4L951.1 141.4L948.1 144.4L945.1 141.4Z"/><path d="M952.7 146.1L955.7 149.1L952.7 152.1L949.7 149.1Z"/><path d="M957.4 142.3L960.4 145.3L957.4 148.3L954.4 145.3Z"/><path d="M960.2 138.4L963.2 141.4L960.2 144.4L957.2 141.4Z"/><path d="M974.2 134.6L977.2 137.6L974.2 140.6L971.2 137.6Z"/><path d="M978.2 138.4L981.2 141.4L978.2 144.4L975.2 141.4Z"/><path d="M981.2 126.9L984.2 129.9L981.2 132.9L978.2 129.9Z"/><path d="M984.5 138.4L987.5 141.4L984.5 144.4L981.5 141.4Z"/><path d="M987.6 130.8L990.6 133.8L987.6 136.8L984.6 133.8Z"/><path d="M997.2 138.4L1000.2 141.4L997.2 144.4L994.2 141.4Z"/><path d="M998.2 126.9L1001.2 129.9L998.2 132.9L995.2 129.9Z"/><path d="M1001.5 130.8L1004.5 133.8L1001.5 136.8L998.5 133.8Z"/><path d="M1004.5 134.6L1007.5 137.6L1004.5 140.6L1001.5 137.6Z"/><path d="M1010.2 123.1L1013.2 126.1L1010.2 129.1L1007.2 126.1Z"/><path d="M1016.7 126.9L1019.7 129.9L1016.7 132.9L1013.7 129.9Z"/><path d="M1019.5 126.9L1022.5 129.9L1019.5 132.9L1016.5 129.9Z"/><path d="M1022.5 123.1L1025.5 126.1L1022.5 129.1L1019.5 126.1Z"/><path d="M1028.2 126.9L1031.2 129.9L1028.2 132.9L1025.2 129.9Z"/><path d="M1031.0 111.5L1034.0 114.5L1031.0 117.5L1028.0 114.5Z"/><path d="M1032.7 123.1L1035.7 126.1L1032.7 129.1L1029.7 126.1Z"/><path d="M1035.7 126.9L1038.7 129.9L1035.7 132.9L1032.7 129.9Z"/><path d="M1037.0 146.1L1040.0 149.1L1037.0 152.1L1034.0 149.1Z"/><path d="M1037.9 130.8L1040.9 133.8L1037.9 136.8L1034.9 133.8Z"/><path d="M1038.7 123.1L1041.7 126.1L1038.7 129.1L1035.7 126.1Z"/><path d="M1039.5 138.4L1042.5 141.4L1039.5 144.4L1036.5 141.4Z"/><path d="M1040.5 150.0L1043.5 153.0L1040.5 156.0L1037.5 153.0Z"/><path d="M1041.0 123.1L1044.0 126.1L1041.0 129.1L1038.0 126.1Z"/><path d="M1042.0 138.4L1045.0 141.4L1042.0 144.4L1039.0 141.4Z"/><path d="M1042.9 130.8L1045.9 133.8L1042.9 136.8L1039.9 133.8Z"/><path d="M1043.9 134.6L1046.9 137.6L1043.9 140.6L1040.9 137.6Z"/><path d="M1044.8 142.3L1047.8 145.3L1044.8 148.3L1041.8 145.3Z"/><path d="M1046.0 130.8L1049.0 133.8L1046.0 136.8L1043.0 133.8Z"/><path d="M1047.8 123.1L1050.8 126.1L1047.8 129.1L1044.8 126.1Z"/><path d="M1049.8 134.6L1052.8 137.6L1049.8 140.6L1046.8 137.6Z"/><path d="M1054.2 123.1L1057.2 126.1L1054.2 129.1L1051.2 126.1Z"/><path d="M1057.5 130.8L1060.5 133.8L1057.5 136.8L1054.5 133.8Z"/><path d="M1060.8 119.2L1063.8 122.2L1060.8 125.2L1057.8 122.2Z"/><path d="M1064.0 130.8L1067.0 133.8L1064.0 136.8L1061.0 133.8Z"/><path d="M1065.7 119.2L1068.7 122.2L1065.7 125.2L1062.7 122.2Z"/><path d="M1069.0 119.2L1072.0 122.2L1069.0 125.2L1066.0 122.2Z"/><path d="M1070.2 134.6L1073.2 137.6L1070.2 140.6L1067.2 137.6Z"/><path d="M1072.4 142.3L1075.4 145.3L1072.4 148.3L1069.4 145.3Z"/><path d="M1073.7 123.1L1076.7 126.1L1073.7 129.1L1070.7 126.1Z"/><path d="M1075.7 142.3L1078.7 145.3L1075.7 148.3L1072.7 145.3Z"/><path d="M1076.8 134.6L1079.8 137.6L1076.8 140.6L1073.8 137.6Z"/><path d="M1077.9 119.2L1080.9 122.2L1077.9 125.2L1074.9 122.2Z"/><path d="M1079.5 119.2L1082.5 122.2L1079.5 125.2L1076.5 122.2Z"/><path d="M1082.2 119.2L1085.2 122.2L1082.2 125.2L1079.2 122.2Z"/><path d="M1084.5 146.1L1087.5 149.1L1084.5 152.1L1081.5 149.1Z"/><path d="M1085.5 119.2L1088.5 122.2L1085.5 125.2L1082.5 122.2Z"/><path d="M1087.5 119.2L1090.5 122.2L1087.5 125.2L1084.5 122.2Z"/></g>
<path d="M78.5 432.5V462.5" stroke="#e6e6e6" stroke-width="1" fill="none"/>
<path d="M103.5 432.5V462.5" stroke="#e6e6e6" stroke-width="1" fill="none"/>
<path d="M129.5 432.5V462.5" stroke="#e6e6e6" stroke-width="1" fill="none"/>
<path d="M154.5 432.5V462.5" stroke="#e6e6e6" stroke-width="1" fill="none"/>
<path d="M180.5 432.5V462.5" stroke="#e6e6e6" stroke-width="1" fill="none"/>
<path d="M205.5 432.5V462.5" stroke="#e6e6e6" stroke-width="1" fill="none"/>
<path d="M231.5 432.5V462.5" stroke="#e6e6e6" stroke-width="1" fill="none"/>
<path d="M257.5 432.5V462.5" stroke="#e6e6e6" stroke-width="1" fill="none"/>
<path d="M283.5 432.5V462.5" stroke="#e6e6e6" stroke-width="1" fill="none"/>
<path d="M308.5 432.5V462.5" stroke="#e6e6e6" stroke-width="1" fill="none"/>
<path d="M333.5 432.5V462.5" stroke="#e6e6e6" stroke-width="1" fill="none"/>
<path d="M359.5 432.5V462.5" stroke="#e6e6e6" stroke-width="1" fill="none"/>
<path d="M385.5 432.5V462.5" stroke="#e6e6e6" stroke-width="1" fill="none"/>
<path d="M411.5 432.5V462.5" stroke="#e6e6e6" stroke-width="1" fill="none"/>
<path d="M437.5 432.5V462.5" stroke="#e6e6e6" stroke-width="1" fill="none"/>
<path d="M462.5 432.5V462.5" stroke="#e6e6e6" stroke-width="1" fill="none"/>
<path d="M487.5 432.5V462.5" stroke="#e6e6e6" stroke-width="1" fill="none"/>
<path d="M513.5 432.5V462.5" stroke="#e6e6e6" stroke-width="1" fill="none"/>
<path d="M539.5 432.5V462.5" stroke="#e6e6e6" stroke-width="1" fill="none"/>
<path d="M565.5 432.5V462.5" stroke="#e6e6e6" stroke-width="1" fill="none"/>
<path d="M590.5 432.5V462.5" stroke="#e6e6e6" stroke-width="1" fill="none"/>
<path d="M616.5 432.5V462.5" stroke="#e6e6e6" stroke-width="1" fill="none"/>
<path d="M641.5 432.5V462.5" stroke="#e6e6e6" stroke-width="1" fill="none"/>
<path d="M667.5 432.5V462.5" stroke="#e6e6e6" stroke-width="1" fill="none"/>
<path d="M693.5 432.5V462.5" stroke="#e6e6e6" stroke-width="1" fill="none"/>
<path d="M719.5 432.5V462.5" stroke="#e6e6e6" stroke-width="1" fill="none"/>
<path d="M745.5 432.5V462.5" stroke="#e6e6e6" stroke-width="1" fill="none"/>
<path d="M770.5 432.5V462.5" stroke="#e6e6e6" stroke-width="1" fill="none"/>
<path d="M795.5 432.5V462.5" stroke="#e6e6e6" stroke-width="1" fill="none"/>
<path d="M821.5 432.5V462.5" stroke="#e6e6e6" stroke-width="1" fill="none"/>
<path d="M847.5 432.5V462.5" stroke="#e6e6e6" stroke-width="1" fill="none"/>
<path d="M873.5 432.5V462.5" stroke="#e6e6e6" stroke-width="1" fill="none"/>
<path d="M898.5 432.5V462.5" stroke="#e6e6e6" stroke-width="1" fill="none"/>
<path d="M923.5 432.5V462.5" stroke="#e6e6e6" stroke-width="1" fill="none"/>
<path d="M949.5 432.5V462.5" stroke="#e6e6e6" stroke-width="1" fill="none"/>
<path d="M975.5 432.5V462.5" stroke="#e6e6e6" stroke-width="1" fill="none"/>
<path d="M1001.5 432.5V462.5" stroke="#e6e6e6" stroke-width="1" fill="none"/>
<path d="M1027.5 432.5V462.5" stroke="#e6e6e6" stroke-width="1" fill="none"/>
<path d="M1052.5 432.5V462.5" stroke="#e6e6e6" stroke-width="1" fill="none"/>
<path d="M1077.5 432.5V462.5" stroke="#e6e6e6" stroke-width="1" fill="none"/>
<g font-family="Liberation Sans, sans-serif" font-size="11.2" fill="#999999" word-spacing="1.5" letter-spacing="0.2">
<text x="85.0" y="458" transform="rotate(-45 85.0 458)">Sep '16</text>
<text x="110.0" y="458" transform="rotate(-45 110.0 458)">Nov '16</text>
<text x="136.0" y="458" transform="rotate(-45 136.0 458)">Jan '17</text>
<text x="161.0" y="458" transform="rotate(-45 161.0 458)">Mar '17</text>
<text x="187.0" y="458" transform="rotate(-45 187.0 458)">May '17</text>
<text x="212.0" y="458" transform="rotate(-45 212.0 458)">Jul '17</text>
<text x="238.0" y="458" transform="rotate(-45 238.0 458)">Sep '17</text>
<text x="264.0" y="458" transform="rotate(-45 264.0 458)">Nov '17</text>
<text x="290.0" y="458" transform="rotate(-45 290.0 458)">Jan '18</text>
<text x="315.0" y="458" transform="rotate(-45 315.0 458)">Mar '18</text>
<text x="340.0" y="458" transform="rotate(-45 340.0 458)">May '18</text>
<text x="366.0" y="458" transform="rotate(-45 366.0 458)">Jul '18</text>
<text x="392.0" y="458" transform="rotate(-45 392.0 458)">Sep '18</text>
<text x="418.0" y="458" transform="rotate(-45 418.0 458)">Nov '18</text>
<text x="444.0" y="458" transform="rotate(-45 444.0 458)">Jan '19</text>
<text x="469.0" y="458" transform="rotate(-45 469.0 458)">Mar '19</text>
<text x="494.0" y="458" transform="rotate(-45 494.0 458)">May '19</text>
<text x="520.0" y="458" transform="rotate(-45 520.0 458)">Jul '19</text>
<text x="546.0" y="458" transform="rotate(-45 546.0 458)">Sep '19</text>
<text x="572.0" y="458" transform="rotate(-45 572.0 458)">Nov '19</text>
<text x="597.0" y="458" transform="rotate(-45 597.0 458)">Jan '20</text>
<text x="623.0" y="458" transform="rotate(-45 623.0 458)">Mar '20</text>
<text x="648.0" y="458" transform="rotate(-45 648.0 458)">May '20</text>
<text x="674.0" y="458" transform="rotate(-45 674.0 458)">Jul '20</text>
<text x="700.0" y="458" transform="rotate(-45 700.0 458)">Sep '20</text>
<text x="726.0" y="458" transform="rotate(-45 726.0 458)">Nov '20</text>
<text x="752.0" y="458" transform="rotate(-45 752.0 458)">Jan '21</text>
<text x="777.0" y="458" transform="rotate(-45 777.0 458)">Mar '21</text>
<text x="802.0" y="458" transform="rotate(-45 802.0 458)">May '21</text>
<text x="828.0" y="458" transform="rotate(-45 828.0 458)">Jul '21</text>
<text x="854.0" y="458" transform="rotate(-45 854.0 458)">Sep '21</text>
<text x="880.0" y="458" transform="rotate(-45 880.0 458)">Nov '21</text>
<text x="905.0" y="458" transform="rotate(-45 905.0 458)">Jan '22</text>
<text x="930.0" y="458" transform="rotate(-45 930.0 458)">Mar '22</text>
<text x="956.0" y="458" transform="rotate(-45 956.0 458)">May '22</text>
<text x="982.0" y="458" transform="rotate(-45 982.0 458)">Jul '22</text>
<text x="1008.0" y="458" transform="rotate(-45 1008.0 458)">Sep '22</text>
<text x="1034.0" y="458" transform="rotate(-45 1034.0 458)">Nov '22</text>
<text x="1059.0" y="458" transform="rotate(-45 1059.0 458)">Jan '23</text>
<text x="1084.0" y="458" transform="rotate(-45 1084.0 458)">Mar '23</text>
</g>
<rect x="66" y="433" width="1020" height="29" fill="rgba(102,133,194,0.3)"/>
<path d="M65.5 432.5H1086.5V462.5H65.5Z" stroke="#cccccc" stroke-width="1" fill="none"/>
<g transform="translate(66,439)"><path d="M-4.5 0.5L3.5 0.5L3.5 15.5L-4.5 15.5Z" fill="#f2f2f2" stroke="#999999" stroke-width="1"/><path d="M-1.5 4V12M0.5 4V12" stroke="#999999" stroke-width="1" fill="none"/></g>
<g transform="translate(1087,439)"><path d="M-4.5 0.5L3.5 0.5L3.5 15.5L-4.5 15.5Z" fill="#f2f2f2" stroke="#999999" stroke-width="1"/><path d="M-1.5 4V12M0.5 4V12" stroke="#999999" stroke-width="1" fill="none"/></g>
<path d="M482 486H498" stroke="#058DC7" stroke-width="2"/><circle cx="490" cy="486" r="3" fill="#058DC7"/>
<path d="M555 486H571" stroke="#50B432" stroke-width="2"/><path d="M563 483L566 486L563 489L560 486Z" fill="#50B432"/>
</svg>
<div class="yl" style="top:124.0px">60</div>
<div class="yl" style="top:163.0px">50</div>
<div class="yl" style="top:201.0px">40</div>
<div class="yl" style="top:239.0px">30</div>
<div class="yl" style="top:277.0px">20</div>
<div class="yl" style="top:316.0px">10</div>
<div class="yl" style="top:354.0px">0</div>
<div class="xl" style="left:129.5px">1. Jan '17</div>
<div class="xl" style="left:205.5px">1. Jul '17</div>
<div class="xl" style="left:283.5px">1. Jan '18</div>
<div class="xl" style="left:359.5px">1. Jul '18</div>
<div class="xl" style="left:437.5px">1. Jan '19</div>
<div class="xl" style="left:513.5px">1. Jul '19</div>
<div class="xl" style="left:590.5px">1. Jan '20</div>
<div class="xl" style="left:667.5px">1. Jul '20</div>
<div class="xl" style="left:745.5px">1. Jan '21</div>
<div class="xl" style="left:821.5px">1. Jul '21</div>
<div class="xl" style="left:898.5px">1. Jan '22</div>
<div class="xl" style="left:975.5px">1. Jul '22</div>
<div class="xl" style="left:1052.5px">1. Jan '23</div>
<div class="t" style="left:576.5px;top:389px;font-size:12px;color:#666;transform:translateX(-50%);">Date</div>
<div class="t" style="left:20.5px;top:226px;font-size:12px;color:#666;transform:translate(-50%,-50%) rotate(-90deg);">Percent</div>
<div class="t" style="left:504px;top:481px;font-size:12px;font-weight:bold;color:#333;">Right</div>
<div class="t" style="left:576px;top:481px;font-size:12px;font-weight:bold;color:#333;letter-spacing:0.3px;">Wrong</div>
</div></body></html>
